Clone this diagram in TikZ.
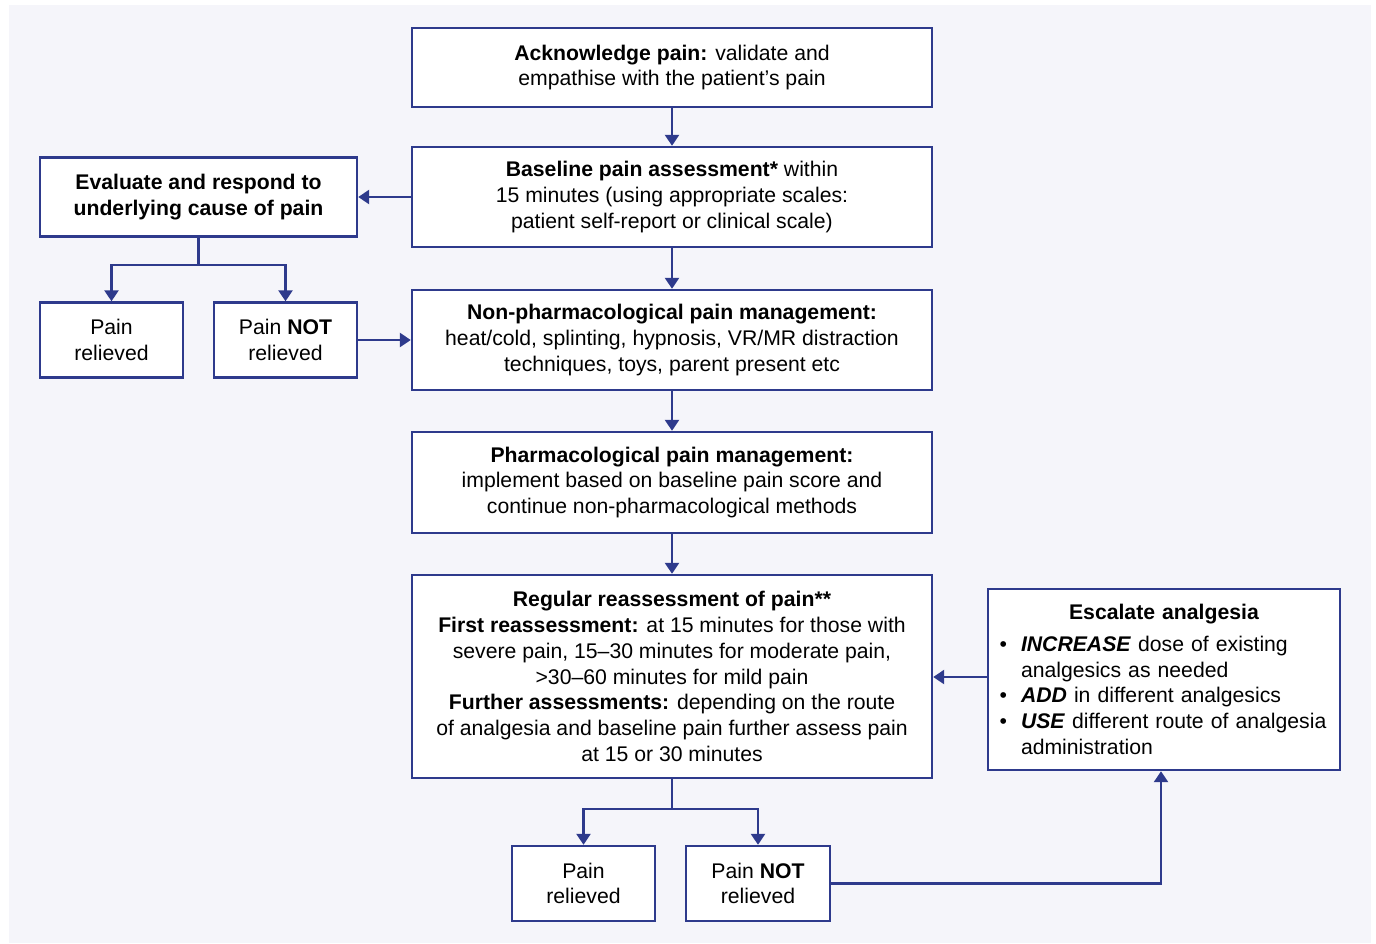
\documentclass[tikz,border=0pt]{standalone}
\usepackage{fontspec}
\setmainfont{Liberation Sans}
\usepackage{enumitem}
\usetikzlibrary{
  positioning,
  arrows.meta,
  calc
}
\definecolor{navy}{HTML}{2E3A8C}
\definecolor{paper}{HTML}{F5F5FA}
\tikzset{
  box/.style={
    draw=navy,
    line width=2.4pt,
    fill=white,
    align=center,
    inner sep=0pt,
    font=\fontsize{21.2}{25.7}\selectfont,
  },
  stage/.style={
    box,
    minimum width=520pt,
    minimum height=100pt,
  },
  outcome/.style={
    box,
    minimum width=143pt,
    minimum height=75pt,
  },
  edge/.style={
    ->,
    >={Triangle[length=11pt,width=14pt]},
    draw=navy,
    line width=2.4pt,
  },
}

\begin{document}
\begin{tikzpicture}[x=1pt,y=-1pt]
		\useasboundingbox (0,0) rectangle (1376,943);
		\fill[paper] (9,5) rectangle (1371,943);

		% main column
		\node[stage,minimum height=79pt] (ack) at (672,67.5)
			{\textbf{Acknowledge pain:} validate and\\empathise with the patient’s pain};
		\node[stage] (base) at (672,197)
			{\textbf{Baseline pain assessment*} within\\15 minutes (using appropriate scales:\\patient self-report or clinical scale)};
		\node[stage] (nonph) at (672,340)
			{\textbf{Non-pharmacological pain management:}\\heat/cold, splinting, hypnosis, VR/MR distraction\\techniques, toys, parent present etc};
		\node[stage,minimum height=101pt] (pharm) at (672,482.5)
			{\textbf{Pharmacological pain management:}\\implement based on baseline pain score and\\continue non-pharmacological methods};
		\node[stage,minimum height=203pt] (reass) at (672,676.5)
			{\textbf{Regular reassessment of pain**}\\
			 \textbf{First reassessment:} at 15 minutes for those with\\
			 severe pain, 15–30 minutes for moderate pain,\\
			 >30–60 minutes for mild pain\\
			 \textbf{Further assessments:} depending on the route\\
			 of analgesia and baseline pain further assess pain\\
			 at 15 or 30 minutes};

		% left branch
		\node[box,minimum width=317pt,minimum height=79pt] (eval) at (198.5,197)
			{\textbf{Evaluate and respond to}\\\textbf{underlying cause of pain}};
		\node[outcome] (rel1) at (111.5,340) {Pain\\relieved};
		\node[outcome] (not1) at (285.5,340) {Pain \textbf{NOT}\\relieved};

		% bottom and right
		\node[outcome] (rel2) at (583.5,883.5) {Pain\\relieved};
		\node[outcome,minimum width=144pt] (not2) at (758,883.5) {Pain \textbf{NOT}\\relieved};
		\node[box,minimum width=352pt,minimum height=181pt,text width=332pt,align=left] (esc) at (1164,679.5)
			{{\centering\textbf{Escalate analgesia}\par}
			 \begin{itemize}[leftmargin=23pt,labelsep=14pt,topsep=6pt,partopsep=0pt,itemsep=0pt,parsep=0pt]
			 \item \textbf{\textit{INCREASE}} dose of existing analgesics as needed
			 \item \textbf{\textit{ADD}} in different analgesics
			 \item \textbf{\textit{USE}} different route of analgesia administration
			 \end{itemize}};

		% edges
		\coordinate (fork1) at ($(eval.south)+(0,27)$);
		\coordinate (fork2) at ($(reass.south)+(0,30)$);
		\coordinate (back) at ($(esc.west)+(0,-2.5)$);
		\draw[edge] (ack) -- (base);
		\draw[edge] (base) -- (nonph);
		\draw[edge] (nonph) -- (pharm);
		\draw[edge] (pharm) -- (reass);
		\draw[edge] (base.west) -- (base.west -| eval.east);
		\draw[edge] (eval.south) -- (fork1) -| (rel1);
		\draw[edge] (fork1) -| (not1);
		\draw[edge] (not1) -- (nonph);
		\draw[edge] (reass.south) -- (fork2) -| (rel2);
		\draw[edge] (fork2) -| (not2);
		\draw[edge] (not2.east) -| ($(esc.south)+(-3,0)$);
		\draw[edge] (back) -- (back -| reass.east);

	\end{tikzpicture}
\end{document}
